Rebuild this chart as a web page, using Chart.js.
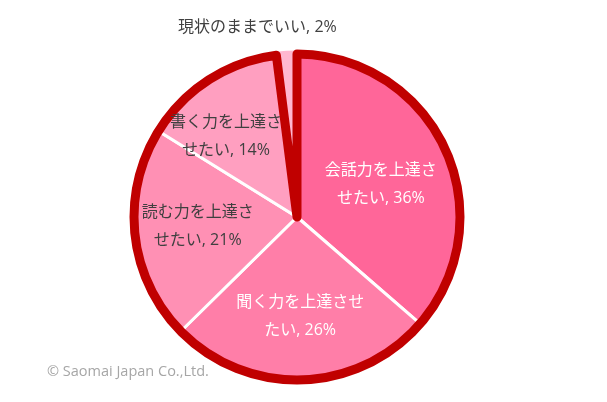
<!DOCTYPE html>
<html>
<head>
<meta charset="utf-8">
<script src="https://cdn.jsdelivr.net/npm/chart.js@4/dist/chart.umd.min.js"></script>
<style>
  html, body { margin: 0; padding: 0; background: #ffffff; }
  #wrap { width: 607px; height: 402px; position: relative; }
</style>
</head>
<body>
<div id="wrap"><canvas id="c" width="607" height="402"></canvas></div>
<script>
// Survey answers: what people want to improve
const categories = ['会話力を上達させたい', '聞く力を上達させたい', '読む力を上達させたい', '書く力を上達させたい', '現状のままでいい'];
const shares = [36, 26, 21, 14, 2];
const sliceColors = ['#FF6699', '#FF7EA8', '#FF90B4', '#FF9FC0', '#FFB7D0'];
const labelColors = ['#FFFFFF', '#FFFFFF', '#404040', '#404040', '#404040'];
// characters on the first line of each wrapped label (0 = single line)
const wrapAt = [7, 8, 7, 7, 0];

const FONT_JP = '"Open Sans", "Noto Sans CJK JP", sans-serif';

function labelLines(i) {
  const text = categories[i] + ', ' + shares[i] + '%';
  if (!wrapAt[i]) return [text];
  return [text.slice(0, wrapAt[i]), text.slice(wrapAt[i])];
}

// small shifts so each label sits clear of the slice edges
const labelNudge = [[-7, 9], [0, 0], [0, -2], [-17, 3]];

// Dark red outline around the answers that ask for improvement, plus labels
const outlineAndLabels = {
  id: 'outlineAndLabels',
  afterDatasetsDraw(chart) {
    const ctx = chart.ctx;
    const arcs = chart.getDatasetMeta(0).data;
    const a0 = arcs[0].getProps(['x', 'y', 'outerRadius', 'startAngle', 'endAngle'], true);
    const a3 = arcs[3].getProps(['endAngle'], true);
    const cx = a0.x, cy = a0.y, R = a0.outerRadius;

    ctx.save();
    ctx.strokeStyle = '#C00000';
    ctx.lineWidth = 9;
    ctx.lineJoin = 'round';
    ctx.lineCap = 'round';
    ctx.beginPath();
    ctx.moveTo(cx, cy);
    ctx.arc(cx, cy, R - 3.5, a0.startAngle, a3.endAngle, false);
    ctx.closePath();
    ctx.stroke();
    ctx.restore();

    ctx.save();
    ctx.font = '16px ' + FONT_JP;
    ctx.textAlign = 'center';
    ctx.textBaseline = 'middle';
    arcs.forEach((arc, i) => {
      const p = arc.getProps(['startAngle', 'endAngle'], true);
      const mid = (p.startAngle + p.endAngle) / 2;
      const lines = labelLines(i);
      ctx.fillStyle = labelColors[i];
      if (i === arcs.length - 1) {
        // thin slice: label sits above the pie
        const lx = cx + Math.cos(mid) * R - 29;
        const ly = cy + Math.sin(mid) * R - 23;
        ctx.fillText(lines[0], lx, ly);
        return;
      }
      const r = R * 0.6;
      const lx = cx + Math.cos(mid) * r + labelNudge[i][0];
      const ly = cy + Math.sin(mid) * r + labelNudge[i][1];
      const lh = 28;
      lines.forEach((ln, k) => {
        ctx.fillText(ln, lx, ly + (k - (lines.length - 1) / 2) * lh);
      });
    });
    ctx.restore();

    ctx.save();
    ctx.font = '14.5px "Open Sans", sans-serif';
    ctx.fillStyle = '#A6A6A6';
    ctx.textAlign = 'left';
    ctx.textBaseline = 'middle';
    ctx.fillText('© Saomai Japan Co.,Ltd.', 47, 372);
    ctx.restore();
  }
};

new Chart(document.getElementById('c'), {
  type: 'pie',
  data: {
    labels: categories,
    datasets: [{
      data: shares,
      backgroundColor: sliceColors,
      borderColor: '#FFFFFF',
      borderWidth: [3, 3, 3, 3, 0]
    }]
  },
  options: {
    responsive: false,
    animation: false,
    rotation: 0,
    layout: { padding: { top: 49, bottom: 17, left: 118, right: 131 } },
    plugins: {
      legend: { display: false },
      tooltip: { enabled: false }
    }
  },
  plugins: [outlineAndLabels]
});
</script>
</body>
</html>
